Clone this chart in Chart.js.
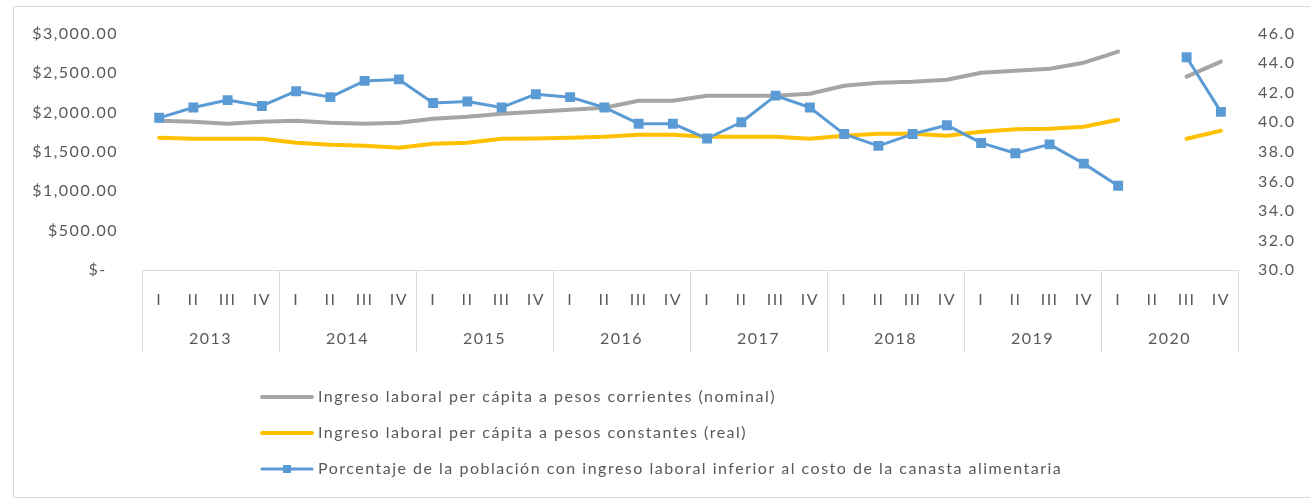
<!DOCTYPE html>
<html><head><meta charset="utf-8">
<script src="https://cdn.jsdelivr.net/npm/chart.js@4"></script>
<style>html,body{margin:0;padding:0;background:#fff}#wrap{width:1310px;height:499px;position:relative}</style>
</head><body><div id="wrap"><canvas id="c" width="1310" height="499"></canvas></div>
<script>
const years = ['2013','2014','2015','2016','2017','2018','2019','2020'];
const quarters = ['I','II','III','IV'];
const seriesLabels = [
  'Ingreso laboral per cápita a pesos corrientes (nominal)',
  'Ingreso laboral per cápita a pesos constantes (real)',
  'Porcentaje de la población con ingreso laboral inferior al costo de la canasta alimentaria'
];
const nominal = [1894,1882,1856,1882,1894,1869,1856,1869, 1920,1945,1983,2009,2034,2059,2148,2148, 2212,2212,2212,2237,2339,2377,2390,2415, 2504,2530,2555,2631,2771,null,2453,2644];
const real = [1678,1665,1665,1665,1615,1589,1577,1551, 1602,1615,1665,1670,1678,1691,1716,1716, 1691,1691,1691,1665,1704,1729,1729,1704, 1755,1785,1793,1818,1907,null,1665,1767];
const pct = [40.3,41.0,41.5,41.1,42.1,41.7,42.8,42.9, 41.3,41.4,41.0,41.9,41.7,41.0,39.9,39.9, 38.9,40.0,41.8,41.0,39.2,38.4,39.2,39.8, 38.6,37.9,38.5,37.2,35.7,null,44.4,40.7];
const leftRange = [0, 3000, 500];
const rightRange = [30, 46, 2];

const categories = [];
years.forEach(y => quarters.forEach(q => categories.push(q)));

const TXT = '#595959';
const FONT = 'Lato';
const SPACING = '1.5px';
Chart.defaults.font.family = FONT;
Chart.defaults.font.size = 16;
Chart.defaults.color = TXT;

const frame = {
  id: 'frame',
  beforeDraw(chart) {
    const c = chart.ctx;
    c.letterSpacing = SPACING;
    c.save();
    c.fillStyle = '#fff';
    c.fillRect(0, 0, chart.width, chart.height);
    c.strokeStyle = '#d9d9d9';
    c.lineWidth = 1;
    c.beginPath();
    c.moveTo(13.5, 6.5); c.lineTo(chart.width, 6.5);
    c.moveTo(13.5, 6.5); c.lineTo(13.5, 497.5);
    c.lineTo(chart.width, 497.5);
    c.stroke();
    c.restore();
  }
};

const yearAxis = {
  id: 'yearAxis',
  afterDraw(chart) {
    const xs = chart.scales.x;
    const c = chart.ctx;
    const step = xs.width / categories.length;
    c.save();
    c.letterSpacing = SPACING;
    c.strokeStyle = '#d9d9d9';
    c.lineWidth = 1;
    c.beginPath();
    for (let i = 0; i <= years.length; i++) {
      const px = Math.round(xs.left + step * 4 * i) + 0.5;
      c.moveTo(px, xs.top);
      c.lineTo(px, xs.top + 82);
    }
    c.stroke();
    c.fillStyle = TXT;
    c.font = '16px ' + FONT;
    c.textAlign = 'center';
    c.textBaseline = 'middle';
    years.forEach((y, i) => {
      c.fillText(y, xs.left + step * (4 * i + 2), 339);
    });
    c.restore();
  }
};

const legendPlugin = {
  id: 'customLegend',
  afterDraw(chart) {
    const c = chart.ctx;
    const rows = [397, 433, 469];
    c.save();
    c.letterSpacing = SPACING;
    c.font = '16px ' + FONT;
    c.textBaseline = 'middle';
    c.textAlign = 'left';
    chart.data.datasets.forEach((ds, i) => {
      const y = rows[i];
      c.strokeStyle = ds.borderColor;
      c.lineWidth = ds.borderWidth;
      c.lineCap = 'round';
      c.beginPath();
      c.moveTo(262, y); c.lineTo(312, y);
      c.stroke();
      if (ds.pointRadius > 0) {
        c.fillStyle = ds.pointBackgroundColor;
        c.fillRect(283, y - 4, 8, 8);
      }
      c.fillStyle = TXT;
      c.fillText(ds.label, 318, y);
    });
    c.restore();
  }
};

new Chart(document.getElementById('c'), {
  type: 'line',
  data: {
    labels: categories,
    datasets: [
      { label: seriesLabels[0], data: nominal, yAxisID: 'y', borderColor: '#a5a5a5', backgroundColor: '#a5a5a5',
        borderWidth: 4, pointRadius: 0, borderCapStyle: 'round', borderJoinStyle: 'round', order: 3, spanGaps: false },
      { label: seriesLabels[1], data: real, yAxisID: 'y', borderColor: '#ffc000', backgroundColor: '#ffc000',
        borderWidth: 4, pointRadius: 0, borderCapStyle: 'round', borderJoinStyle: 'round', order: 2, spanGaps: false },
      { label: seriesLabels[2], data: pct, yAxisID: 'y1', borderColor: '#5b9bd5', backgroundColor: '#5b9bd5',
        borderWidth: 3, pointStyle: 'rect', pointRadius: 7, pointBackgroundColor: '#5b9bd5', pointBorderColor: '#5b9bd5',
        pointBorderWidth: 0, borderJoinStyle: 'round', order: 1, spanGaps: false }
    ]
  },
  options: {
    responsive: false,
    animation: false,
    layout: { padding: { top: 33, left: 0, right: 0, bottom: 0 } },
    plugins: { legend: { display: false }, tooltip: { enabled: false } },
    scales: {
      x: {
        type: 'category', offset: true,
        grid: { display: false, drawTicks: false },
        border: { display: true, color: '#d9d9d9', width: 1 },
        ticks: { autoSkip: false, maxRotation: 0, padding: 20, color: TXT, font: { size: 16 } },
        afterFit(s) { s.height = 499 - 270 - 33 + 33; }
      },
      y: {
        position: 'left', min: leftRange[0], max: leftRange[1],
        grid: { display: false, drawTicks: false },
        border: { display: false },
        ticks: { stepSize: leftRange[2], padding: 24, color: TXT, font: { size: 16 },
          callback: v => v === 0 ? '$-  ' : '$' + v.toLocaleString('en-US', { minimumFractionDigits: 2, maximumFractionDigits: 2 }) },
        afterFit(s) { s.width = 142; }
      },
      y1: {
        position: 'right', min: rightRange[0], max: rightRange[1],
        grid: { display: false, drawTicks: false },
        border: { display: false },
        ticks: { stepSize: rightRange[2], padding: 20, color: TXT, font: { size: 16 },
          callback: v => v.toFixed(1) },
        afterFit(s) { s.width = 1310 - 1238; }
      }
    }
  },
  plugins: [frame, yearAxis, legendPlugin]
});
</script></body></html>
